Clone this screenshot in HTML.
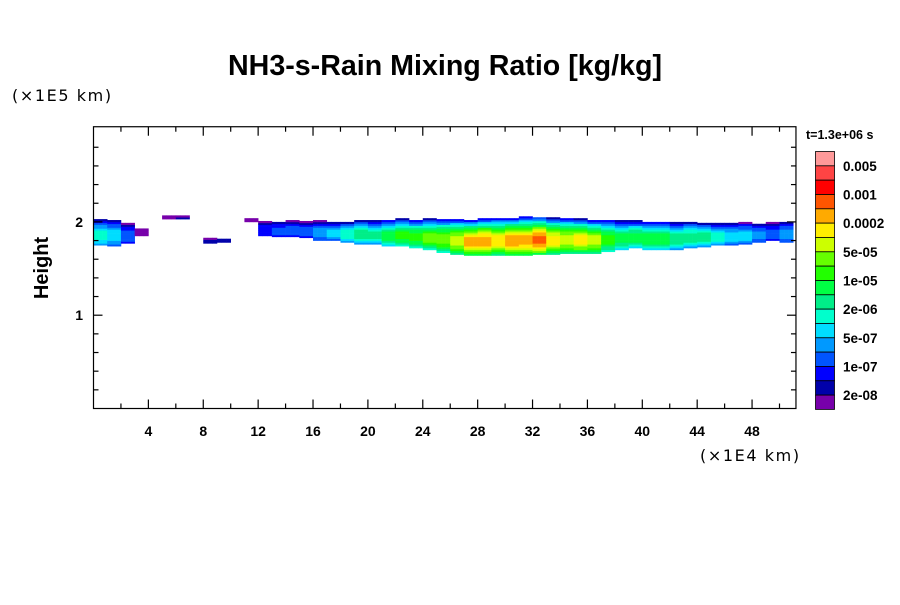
<!DOCTYPE html>
<html><head><meta charset="utf-8"><style>
body{margin:0;background:#fff;}
svg text{font-family:"Liberation Sans",sans-serif;}
</style></head><body>
<svg id="chart" width="900" height="600" xmlns="http://www.w3.org/2000/svg">
<text x="445" y="75" text-anchor="middle" font-size="29" font-weight="bold" textLength="434" lengthAdjust="spacingAndGlyphs">NH3-s-Rain Mixing Ratio [kg/kg]</text>
<text x="12" y="101" font-size="16" letter-spacing="1.6" style="font-family:'DejaVu Sans',sans-serif">(×1E5 km)</text>
<text x="700" y="461" font-size="16" letter-spacing="1.6" style="font-family:'DejaVu Sans',sans-serif">(×1E4 km)</text>
<text transform="translate(48,268) rotate(-90)" text-anchor="middle" font-size="20" font-weight="bold">Height</text>
<text x="806" y="139" font-size="12.5" font-weight="bold">t=1.3e+06 s</text>
<g id="cells"></g>
<g id="axes"></g>
<g id="cbar"></g>
</svg>
<script>
const colors=["#7700aa","#0000aa","#0000ff","#0055ff","#0099ff","#00ddff","#00ffcc","#00ee88","#00ff44","#22ff00","#66ff00","#ccff00","#ffee00","#ffaa00","#ff5500","#ff0000","#ff4444","#ff9999"];
const cbarLabels=["0.005","0.001","0.0002","5e-05","1e-05","2e-06","5e-07","1e-07","2e-08"];
const xTicks=[4,8,12,16,20,24,28,32,36,40,44,48];
const yTicks=[1,2];
const bandTop=[2.02,2.02,1.98,1.92,0,2.07,2.06,0,1.83,1.82,0,2.03,2.00,2.00,2.01,2.00,2.01,2.00,2.00,2.02,2.01,2.02,2.03,2.02,2.03,2.03,2.03,2.02,2.03,2.04,2.04,2.05,2.05,2.04,2.04,2.03,2.02,2.02,2.01,2.01,2.00,2.00,2.00,2.00,1.99,1.99,1.99,1.99,1.98,1.99,2.00];
const bandBottom=[1.75,1.74,1.77,1.85,0,2.03,2.03,0,1.77,1.78,0,2.00,1.85,1.84,1.84,1.83,1.80,1.80,1.78,1.76,1.76,1.74,1.74,1.72,1.70,1.67,1.65,1.64,1.64,1.64,1.64,1.64,1.65,1.65,1.66,1.66,1.66,1.68,1.70,1.72,1.70,1.70,1.70,1.72,1.73,1.75,1.75,1.76,1.78,1.80,1.78];
const bandMax=[7,6,4,1,0,1,2,0,2,2,0,1,3,4,4,4,5,6,7,8,8,9,10,10,11,11,12,14,14,13,14,14,15,13,12,13,12,10,9,9,9,9,8,8,8,7,6,6,5,4,5];

const X0=93.5,XS=13.72,Y0=408.5,YS=93.3,XMAX=51.2;
const sx=v=>X0+v*XS, sy=v=>Y0-v*YS;
const NS="http://www.w3.org/2000/svg";
function mk(t,a,p){const e=document.createElementNS(NS,t);for(const k in a)e.setAttribute(k,a[k]);p.appendChild(e);return e;}

const cells=document.getElementById('cells');
const sub=3, dh=0.02;
for(let i=0;i<bandTop.length;i++){
  if(!bandMax[i])continue;
  for(let s=0;s<sub;s++){
    const x=i+s/sub;
    if(x>=XMAX)continue;
    const top=bandTop[i],bot=bandBottom[i],mx=bandMax[i];
    const mid=bot+(top-bot)*0.4,half=Math.max(top-mid,mid-bot);
    for(let h=bot;h<top;h+=dh){
      const d=Math.abs(h+dh/2-mid)/half;
      let lv=Math.max(1,Math.ceil(mx*(1-Math.pow(d,1.6)*0.85)));
      const w=Math.min(XS/sub,sx(XMAX)-sx(x));
      const r=mk('rect',{x:sx(x).toFixed(2),y:sy(h+dh).toFixed(2),width:(w+0.3).toFixed(2),height:(dh*YS+0.3).toFixed(2),fill:colors[lv-1]},cells);
      
      
    }
  }
}

const ax=document.getElementById('axes');
const frame=mk('rect',{x:sx(0),y:sy(3.02),width:sx(XMAX)-sx(0),height:sy(0)-sy(3.02),fill:'none',stroke:'#000','stroke-width':1.2},ax);


for(let v=2;v<XMAX;v+=2){
  const L=(v%4===0)?9:5;
  mk('line',{x1:sx(v),x2:sx(v),y1:sy(0),y2:sy(0)-L,stroke:'#000','stroke-width':1.2},ax);
  mk('line',{x1:sx(v),x2:sx(v),y1:sy(3.02),y2:sy(3.02)+L,stroke:'#000','stroke-width':1.2},ax);
}
for(let k=1;k<15;k++){
  const v=k*0.2,L=(k%5===0)?9:5;
  mk('line',{x1:sx(0),x2:sx(0)+L,y1:sy(v),y2:sy(v),stroke:'#000','stroke-width':1.2},ax);
  mk('line',{x1:sx(XMAX),x2:sx(XMAX)-L,y1:sy(v),y2:sy(v),stroke:'#000','stroke-width':1.2},ax);
}
xTicks.forEach(v=>{
  const t=mk('text',{x:sx(v),y:436,'text-anchor':'middle','font-size':14,'font-weight':'bold'},ax);
  t.textContent=v;
  
  
});
yTicks.forEach(v=>{
  const t=mk('text',{x:83,y:sy(v)+5,'text-anchor':'end','font-size':14,'font-weight':'bold'},ax);
  t.textContent=v;
  
  
});

const cb=document.getElementById('cbar');
const cbTop=151.5,cbH=14.33,cbX=815.5;
for(let k=0;k<colors.length;k++){
  const r=mk('rect',{x:cbX,y:cbTop+k*cbH,width:19,height:cbH,fill:colors[colors.length-1-k],stroke:'#000','stroke-width':0.8},cb);
  
  
}
cbarLabels.forEach((l,k)=>{
  const t=mk('text',{x:843,y:cbTop+(2*k+1)*cbH+5,'font-size':13.5,'font-weight':'bold'},cb);
  t.textContent=l;
  
  
});
</script>
</body></html>
